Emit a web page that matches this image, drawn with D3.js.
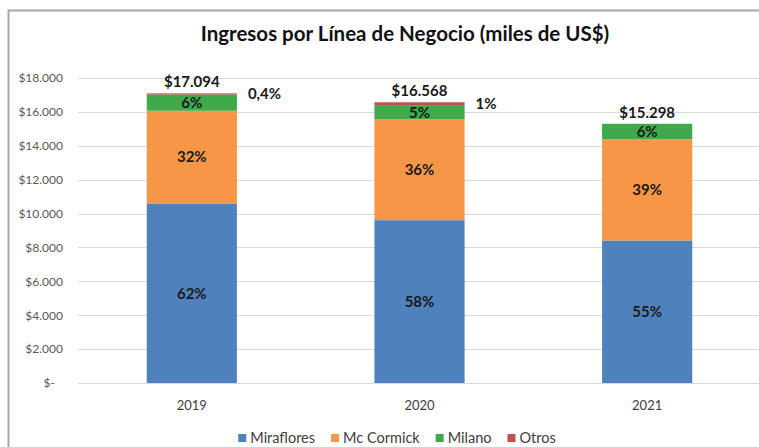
<!DOCTYPE html>
<html>
<head>
<meta charset="utf-8">
<script src="https://cdn.jsdelivr.net/npm/d3@7"></script>
<style>
  body { margin: 0; background: #fff; }
  svg { display: block; font-family: Lato, "Open Sans", sans-serif; }
</style>
</head>
<body>
<svg id="chart" width="759" height="447"></svg>
<script>
const years = ["2019", "2020", "2021"];
const series = ["Miraflores", "Mc Cormick", "Milano", "Otros"];
const miraflores = [10599, 9609, 8414];
const mcCormick = [5470, 5964, 5966];
const milano = [957, 828, 918];
const otros = [68, 166, 0];
const totals = [17094, 16568, 15298];
const pctLabels = [
  ["62%", "32%", "6%", "0,4%"],
  ["58%", "36%", "5%", "1%"],
  ["55%", "39%", "6%", ""],
];
const yTicks = [0, 2000, 4000, 6000, 8000, 10000, 12000, 14000, 16000, 18000];
const colors = ["#4f81bd", "#f79646", "#3fa94b", "#c0504d"];

const svg = d3.select("#chart");
const fmt = d3.formatLocale({ decimal: ",", thousands: ".", grouping: [3], currency: ["$", ""] }).format("$,.0f");

// frame
svg.append("rect")
  .attr("x", 8.5).attr("y", 10.5)
  .attr("width", 820).attr("height", 520)
  .attr("fill", "#fff")
  .attr("stroke", "#a6a6a6")
  .attr("stroke-width", 2);

svg.append("text")
  .attr("x", 405).attr("y", 41)
  .attr("text-anchor", "middle")
  .attr("font-size", 20.5)
  .attr("font-weight", "bold")
  .attr("fill", "#111")
  .text("Ingresos por Línea de Negocio (miles de US$)");

const x = d3.scaleBand().domain(years).range([78, 761]).paddingInner(0.604).paddingOuter(0.302);
const y = d3.scaleLinear().domain([0, 18000]).range([383, 78]);

// gridlines
svg.append("g")
  .selectAll("line")
  .data(yTicks)
  .join("line")
  .attr("x1", 78).attr("x2", 761)
  .attr("y1", (d) => Math.round(y(d)) + 0.5)
  .attr("y2", (d) => Math.round(y(d)) + 0.5)
  .attr("stroke", "#d9d9d9");

// y axis labels
const yAxis = svg.append("g")
  .attr("transform", "translate(63,0)")
  .call(d3.axisLeft(y).tickValues(yTicks).tickSize(0).tickPadding(0)
    .tickFormat((d) => (d === 0 ? "$-" : fmt(d))));
yAxis.select(".domain").remove();
yAxis.selectAll("text")
  .attr("font-family", "Lato, sans-serif")
  .attr("font-size", 12)
  .attr("fill", "#595959");
yAxis.selectAll(".tick").filter((d) => d === 0).select("text").attr("x", -8);

// stacked bars
const rows = years.map((yr, i) => ({
  year: yr,
  Miraflores: miraflores[i],
  "Mc Cormick": mcCormick[i],
  Milano: milano[i],
  Otros: otros[i],
  idx: i,
}));
const stacked = d3.stack().keys(series)(rows);

const layers = svg.append("g")
  .selectAll("g")
  .data(stacked)
  .join("g")
  .attr("fill", (d, i) => colors[i]);

layers.selectAll("rect")
  .data((d) => d)
  .join("rect")
  .attr("x", (d) => x(d.data.year))
  .attr("width", x.bandwidth())
  .attr("y", (d) => y(d[1]))
  .attr("height", (d) => y(d[0]) - y(d[1]));

// segment percentage labels (first three series inside)
stacked.slice(0, 3).forEach((layer, s) => {
  svg.append("g")
    .selectAll("text")
    .data(layer)
    .join("text")
    .attr("x", (d) => x(d.data.year) + x.bandwidth() / 2)
    .attr("y", (d) => (y(d[0]) + y(d[1])) / 2)
    .attr("dy", "0.36em")
    .attr("text-anchor", "middle")
    .attr("font-size", 15)
    .attr("font-weight", "bold")
    .attr("fill", "#1a1a1a")
    .text((d) => pctLabels[d.data.idx][s]);
});

// Otros labels beside the bar
svg.append("g")
  .selectAll("text")
  .data(stacked[3].filter((d) => d[1] > d[0]))
  .join("text")
  .attr("x", (d) => x(d.data.year) + x.bandwidth() + 11)
  .attr("y", (d) => (y(d[0]) + y(d[1])) / 2)
  .attr("dy", "0.36em")
  .attr("font-size", 15)
  .attr("font-weight", "bold")
  .attr("fill", "#1a1a1a")
  .text((d) => pctLabels[d.data.idx][3]);

// totals
svg.append("g")
  .selectAll("text")
  .data(years)
  .join("text")
  .attr("x", (d) => x(d) + x.bandwidth() / 2)
  .attr("y", (d, i) => y(totals[i]) - 6)
  .attr("text-anchor", "middle")
  .attr("font-size", 15)
  .attr("font-weight", "bold")
  .attr("fill", "#1a1a1a")
  .text((d, i) => fmt(totals[i]));

// category labels
svg.append("g")
  .selectAll("text")
  .data(years)
  .join("text")
  .attr("x", (d) => x(d) + x.bandwidth() / 2)
  .attr("y", 410)
  .attr("text-anchor", "middle")
  .attr("font-size", 13)
  .attr("fill", "#404040")
  .text((d) => d);

// legend
const legend = svg.append("g");
let lx = 0;
series.forEach((name, i) => {
  const g = legend.append("g").attr("transform", `translate(${lx},0)`);
  g.append("rect").attr("x", 0).attr("y", -4).attr("width", 8).attr("height", 8).attr("fill", colors[i]);
  const t = g.append("text")
    .attr("x", 12).attr("y", 0).attr("dy", "0.35em")
    .attr("font-size", 14.5)
    .attr("fill", "#404040")
    .text(name);
  lx += 12 + t.node().getComputedTextLength() + 16;
});
const lw = lx - 16;
legend.attr("transform", `translate(${397 - lw / 2},438)`);
</script>
</body>
</html>
